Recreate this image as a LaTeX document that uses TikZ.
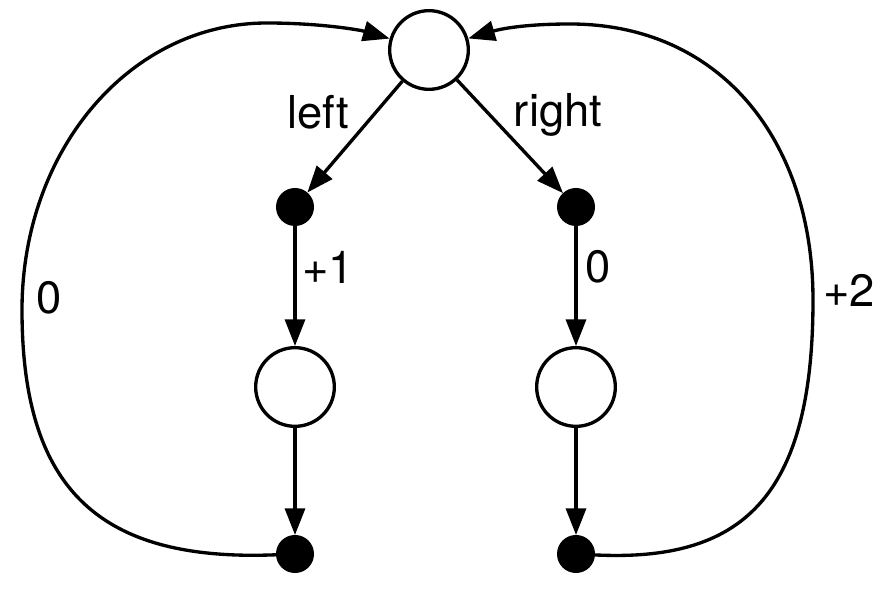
\documentclass[tikz,border=0pt]{standalone}
\usepackage{fontspec}
\setmainfont{TeX Gyre Heros}
\usetikzlibrary{arrows.meta}
\begin{document}
\begin{tikzpicture}[x=0.75pt,y=0.75pt,yscale=-1,xscale=1,
  state/.style={draw,circle,line width=2.5pt,minimum size=59pt,inner sep=0pt,fill=white},
  chance/.style={draw,circle,fill=black,line width=1.5pt,minimum size=27pt,inner sep=0pt},
  arc/.style={line width=2.5pt,-{Triangle[length=20pt,width=15pt]}},
  lbl/.style={inner sep=0pt,font=\fontsize{34}{40}\selectfont}]
\useasboundingbox (0,0) rectangle (893,591);

%Shape: Circles
\node[state] (top) at (429,50) {};
\node[state] (lmid) at (295,387) {};
\node[state] (rmid) at (576,387) {};
%Shape: Dots
\node[chance] (ldot) at (295,207) {};
\node[chance] (rdot) at (576,207) {};
\node[chance] (lend) at (295,554) {};
\node[chance] (rend) at (576,554) {};

%Straight Lines
\draw[arc] (top) -- (ldot);
\draw[arc] (top) -- (rdot);
\draw[arc] (ldot) -- (lmid);
\draw[arc] (rdot) -- (rmid);
\draw[arc] (lmid) -- (lend);
\draw[arc] (rmid) -- (rend);

%Curve Lines
\draw[arc] (lend) .. controls (100,562) and (22,490) .. (22,310) .. controls (22,150) and (130,23) .. (267,23) .. controls (320,23) and (360,30) .. (top);
\draw[arc] (rend) .. controls (740,562) and (813,500) .. (813,300) .. controls (813,140) and (720,24) .. (570,24) .. controls (520,24) and (497,30) .. (top);

% Text Node
\node[lbl] (tleft) at (318,112) {left};
\node[lbl] (tright) at (558,115) {right};
\node[lbl] (tplusone) at (328,267) {+1};
\node[lbl] (tzeroa) at (598,267) {0};
\node[lbl] (tzerob) at (49,298) {0};
\node[lbl] (tplustwo) at (849,290) {+2};

\end{tikzpicture}
\end{document}
